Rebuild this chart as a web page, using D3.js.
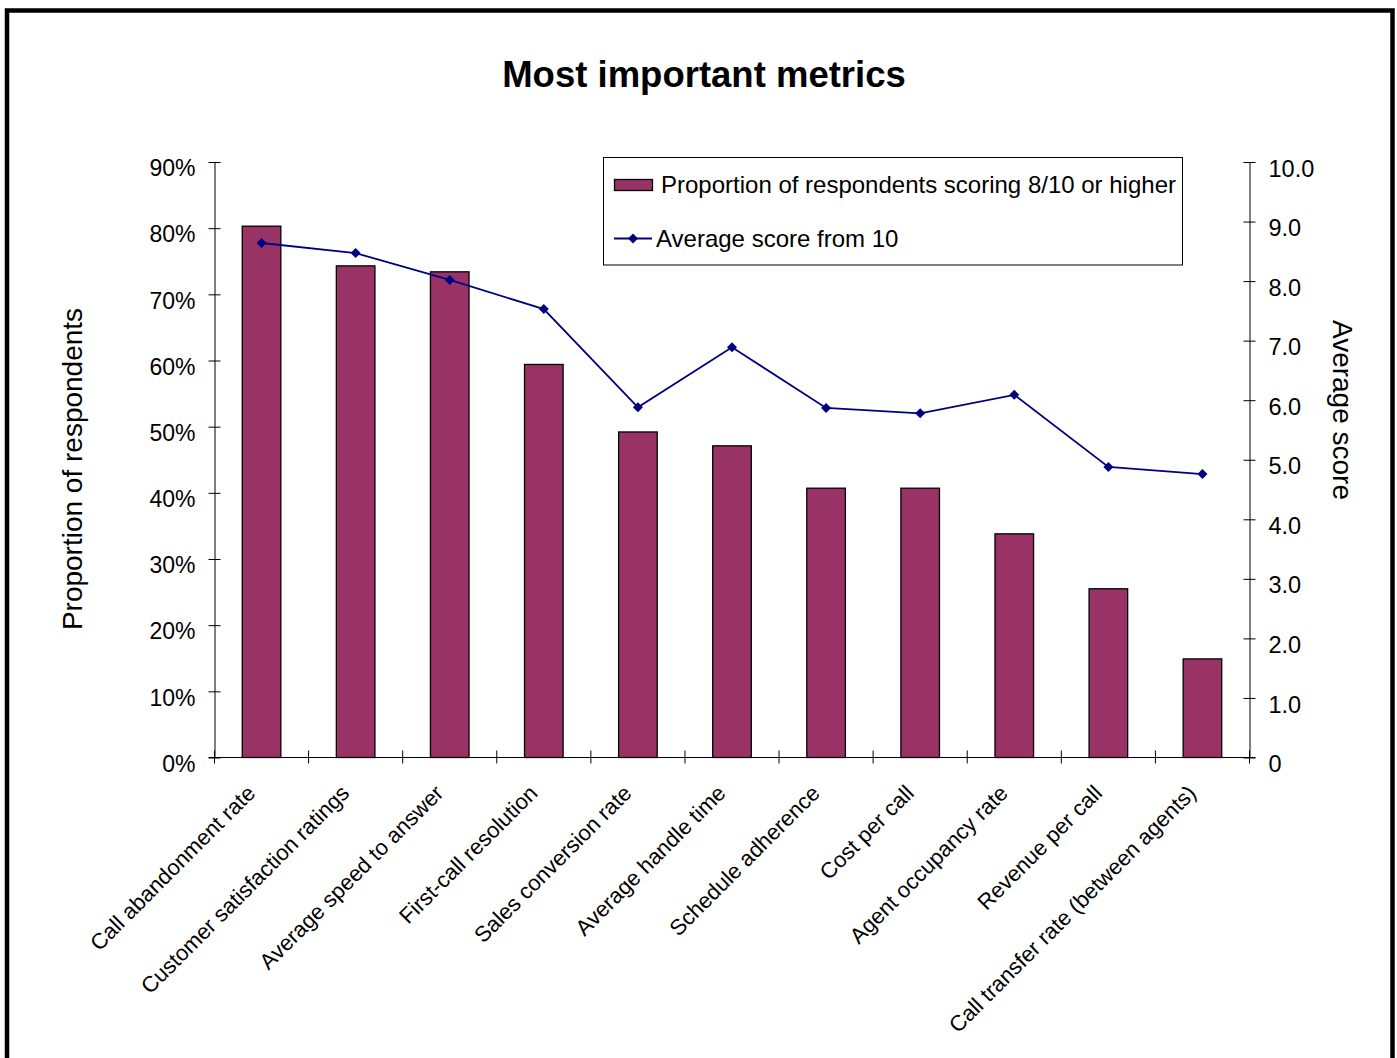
<!DOCTYPE html>
<html><head><meta charset="utf-8">
<script src="https://cdn.jsdelivr.net/npm/d3@7"></script>
<style>body{margin:0;background:#fff;} svg{display:block;font-family:"Liberation Sans",Arial,sans-serif;}</style>
</head><body>
<svg id="chart" width="1397" height="1058"></svg>
<script>
const categories = ["Call abandonment rate","Customer satisfaction ratings","Average speed to answer","First-call resolution","Sales conversion rate","Average handle time","Schedule adherence","Cost per call","Agent occupancy rate","Revenue per call","Call transfer rate (between agents)"];
const proportion = [0.803, 0.743, 0.734, 0.594, 0.492, 0.471, 0.407, 0.407, 0.338, 0.255, 0.149];
const avgScore = [8.64, 8.47, 8.02, 7.53, 5.88, 6.89, 5.87, 5.78, 6.09, 4.88, 4.76];
const leftTicks = [0,0.1,0.2,0.3,0.4,0.5,0.6,0.7,0.8,0.9];
const rightTicks = [0,1,2,3,4,5,6,7,8,9,10];
const seriesNames = ["Proportion of respondents scoring 8/10 or higher","Average score from 10"];

const svg = d3.select("#chart");
const L = 214.5, R = 1249.5, T = 162, B = 757.5;
const barColor = "#993366", lineColor = "#000080";

// frame
svg.append("rect").attr("x",7).attr("y",10.5).attr("width",1385.5).attr("height",1060)
  .attr("fill","none").attr("stroke","#000").attr("stroke-width",4.5);

// title
svg.append("text").attr("x",704).attr("y",87).attr("text-anchor","middle")
  .attr("font-size",36.5).attr("font-weight","bold").text("Most important metrics");

const x = d3.scaleBand().domain(categories).range([L,R]).paddingInner(0).paddingOuter(0);
const y = d3.scaleLinear().domain([0,0.9]).range([B,T]);
const y2 = d3.scaleLinear().domain([0,10]).range([B,T]);

// bars
const bw = x.bandwidth()*0.41;
svg.append("g").selectAll("rect").data(categories).join("rect")
  .attr("x",d=>x(d)+x.bandwidth()/2-bw/2)
  .attr("y",(d,i)=>y(proportion[i]))
  .attr("width",bw)
  .attr("height",(d,i)=>B-y(proportion[i]))
  .attr("fill",barColor).attr("stroke","#000").attr("stroke-width",1.3);

// left axis
const la = svg.append("g").attr("transform",`translate(${L},0)`)
  .call(d3.axisLeft(y).tickValues(leftTicks).tickFormat(d3.format(".0%")).tickSizeInner(6).tickSizeOuter(0).tickPadding(12));
la.select(".domain").attr("stroke","#000");
la.selectAll(".tick line").attr("x2",6).attr("x1",-6).attr("stroke","#000");
la.selectAll(".tick text").attr("font-size",23).attr("font-family","Liberation Sans, Arial, sans-serif").attr("fill","#000").attr("dy","0.6em").attr("x",-19);

// right axis
const ra = svg.append("g").attr("transform",`translate(${R},0)`)
  .call(d3.axisRight(y2).tickValues(rightTicks).tickFormat(d=>d===0?"0":d.toFixed(1)).tickSizeInner(6).tickSizeOuter(0));
ra.select(".domain").attr("stroke","#000");
ra.selectAll(".tick line").attr("x1",-6).attr("x2",6).attr("stroke","#000");
ra.selectAll(".tick text").attr("font-size",23.5).attr("font-family","Liberation Sans, Arial, sans-serif").attr("fill","#000").attr("dy","0.6em").attr("x",19);

// x axis line & ticks at band boundaries
const xg = svg.append("g");
xg.append("line").attr("x1",L-6).attr("x2",R+6).attr("y1",B).attr("y2",B).attr("stroke","#000");
const bounds = categories.map(d=>x(d)).concat([R]);
xg.selectAll("line.t").data(bounds).join("line").attr("class","t")
  .attr("x1",d=>d).attr("x2",d=>d).attr("y1",B-7).attr("y2",B+6).attr("stroke","#000");

// category labels
svg.append("g").selectAll("text").data(categories).join("text")
  .attr("transform",d=>`translate(${x(d)+x.bandwidth()/2-5},${B+37}) rotate(-45)`)
  .attr("text-anchor","end").attr("font-size",22).text(d=>d);

// line
const line = d3.line().x((d,i)=>x(categories[i])+x.bandwidth()/2).y(d=>y2(d));
svg.append("path").datum(avgScore).attr("d",line).attr("fill","none").attr("stroke",lineColor).attr("stroke-width",1.8);
svg.append("g").selectAll("path").data(avgScore).join("path")
  .attr("d",d3.symbol().type(d3.symbolSquare).size(50))
  .attr("transform",(d,i)=>`translate(${x(categories[i])+x.bandwidth()/2},${y2(d)}) rotate(45)`)
  .attr("fill",lineColor);

// axis titles
svg.append("text").attr("transform","translate(82,469) rotate(-90)").attr("text-anchor","middle")
  .attr("font-size",28).text("Proportion of respondents");
svg.append("text").attr("transform","translate(1333,410) rotate(90)").attr("text-anchor","middle")
  .attr("font-size",28).text("Average score");

// legend
const lg = svg.append("g");
lg.append("rect").attr("x",603.5).attr("y",157.5).attr("width",579).attr("height",107.5)
  .attr("fill","#fff").attr("stroke","#000").attr("stroke-width",1);
lg.append("rect").attr("x",614.5).attr("y",179.5).attr("width",38).attr("height",11)
  .attr("fill",barColor).attr("stroke","#000").attr("stroke-width",1.3);
lg.append("text").attr("x",661).attr("y",193).attr("font-size",24).text(seriesNames[0]);
lg.append("line").attr("x1",614).attr("x2",652).attr("y1",238.5).attr("y2",238.5).attr("stroke",lineColor).attr("stroke-width",1.8);
lg.append("path").attr("d",d3.symbol().type(d3.symbolSquare).size(50)).attr("transform","translate(633,238.5) rotate(45)").attr("fill",lineColor);
lg.append("text").attr("x",656).attr("y",247).attr("font-size",24).text(seriesNames[1]);
</script>
</body></html>
